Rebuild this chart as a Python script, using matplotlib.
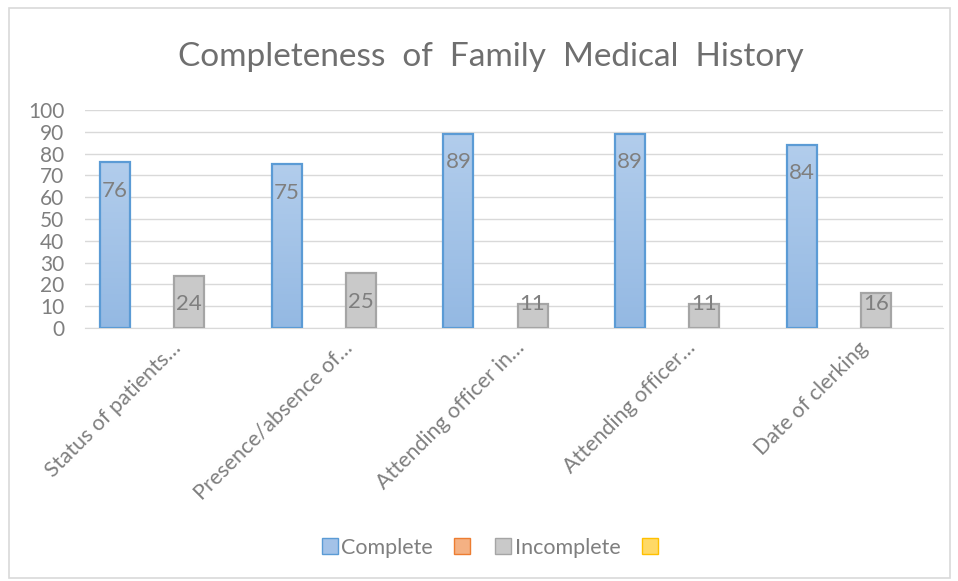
import numpy as np
import matplotlib
matplotlib.use("Agg")
from matplotlib import pyplot as plt
from matplotlib.patches import Rectangle, Patch
from matplotlib.colors import LinearSegmentedColormap

plt.rcParams['font.family'] = ['Lato', 'DejaVu Sans']

categories = ["Status of patients…", "Presence/absence of…", "Attending officer in…",
              "Attending officer…", "Date of clerking"]
complete = [76, 75, 89, 89, 84]
incomplete = [24, 25, 11, 11, 16]
series_names = ["Complete", "", "Incomplete", ""]

text_col = "#7f7f7f"

fig = plt.figure(figsize=(9.58, 5.81), dpi=100)
fig.patches.append(Rectangle((0.009, 0.005), 0.983, 0.982, transform=fig.transFigure,
                             fill=False, edgecolor="#d9d9d9", linewidth=1.2))
ax = fig.add_axes([0.0887, 0.4355, 0.8957, 0.3752])

x = np.arange(len(categories))
w = 0.175
step = 0.216

blue_bars = ax.bar(x - 1.5 * step, complete, w, color="#a3c2e8", edgecolor="#5b9bd5", linewidth=1.6, zorder=3)
grey_bars = ax.bar(x + 0.5 * step, incomplete, w, color="#c9c9c9", edgecolor="#a5a5a5", linewidth=1.6, zorder=3)

# gradient fill for the blue bars
grad = np.linspace(0, 1, 100).reshape(-1, 1)
cmap = LinearSegmentedColormap.from_list("b", ["#94b9e3", "#b2cdec"])
for b in blue_bars:
    x0, y0 = b.get_x(), b.get_y()
    im = ax.imshow(grad, extent=[x0, x0 + b.get_width(), y0, y0 + b.get_height()],
                   origin="lower", cmap=cmap, aspect="auto", zorder=3.5)
    im.set_clip_path(b)
    b.set_facecolor("none")
    b.set_zorder(4)

for bars, vals in [(blue_bars, complete), (grey_bars, incomplete)]:
    for b, v in zip(bars, vals):
        ax.text(b.get_x() + b.get_width() / 2, max(v - 13, 10.8), str(v), ha="center", va="center",
                fontsize=16, color=text_col, zorder=5)

ax.set_xlim(-0.5, len(categories) - 0.5)
ax.set_ylim(0, 100)
ax.set_yticks(range(0, 101, 10))
ax.set_xticks(x)
ax.set_xticklabels(categories, rotation=45, ha="right", rotation_mode="anchor", fontsize=15.5, color=text_col)
ax.tick_params(axis="y", labelsize=15, labelcolor=text_col, length=0, pad=15)
ax.tick_params(axis="x", length=0, pad=7)
ax.grid(axis="y", color="#d9d9d9", linewidth=1, zorder=0)
ax.set_axisbelow(True)
for s in ["top", "right", "left"]:
    ax.spines[s].set_visible(False)
ax.spines["bottom"].set_color("#d9d9d9")

fig.text(0.512, 0.902, "Completeness  of  Family  Medical  History", ha="center", va="center",
         fontsize=24, color="#6f6f6f")

handles = [Patch(facecolor="#a3c2e8", edgecolor="#5b9bd5"),
           Patch(facecolor="#f4b183", edgecolor="#ed7d31"),
           Patch(facecolor="#c9c9c9", edgecolor="#a5a5a5"),
           Patch(facecolor="#ffd966", edgecolor="#ffc000")]
leg = fig.legend(handles, series_names, loc="center", bbox_to_anchor=(0.513, 0.057), ncol=4,
                 frameon=False, fontsize=15.5, handlelength=0.75, handleheight=0.75,
                 handletextpad=0.15, columnspacing=1.0, labelcolor=text_col)

fig.savefig("out.png", dpi=100)
